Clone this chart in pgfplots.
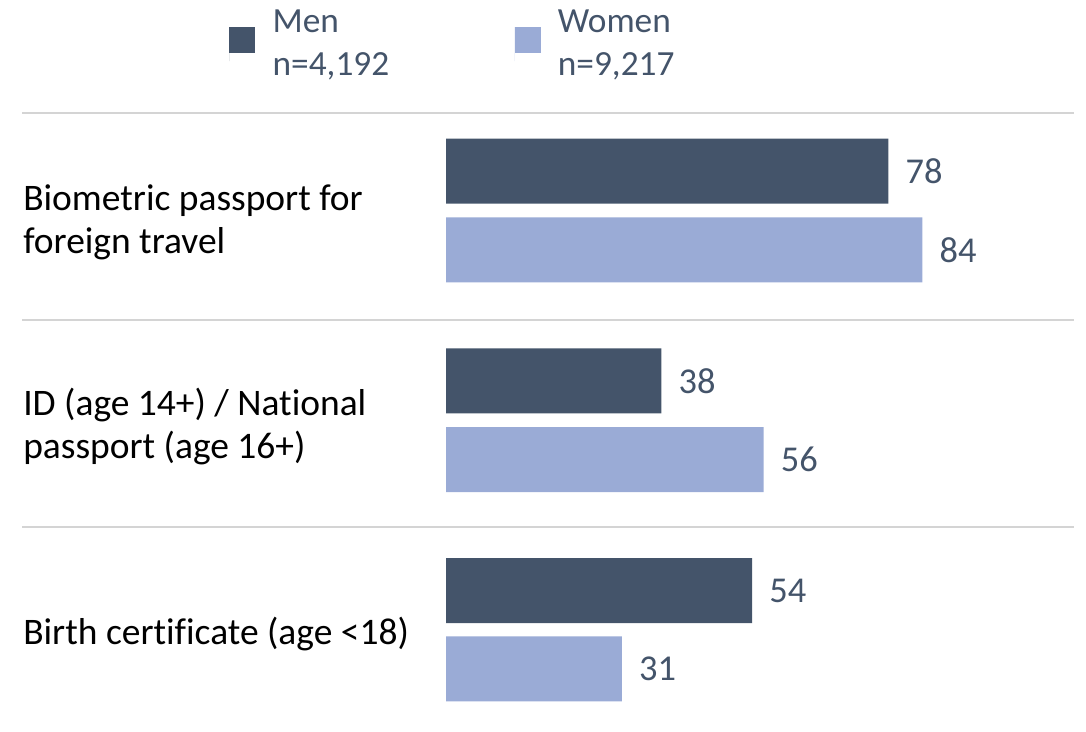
\documentclass[border=0pt]{standalone}
\usepackage{pgfplots}
\pgfplotsset{compat=1.18}
\usepackage{fontspec}
\setmainfont{Carlito}[Ligatures=NoCommon]
\definecolor{men}{HTML}{44546A}
\definecolor{women}{HTML}{9AABD6}
\definecolor{txt}{HTML}{44546A}
\definecolor{sepc}{HTML}{D4D4D4}
\begin{document}
\begin{tikzpicture}[x=1pt,y=1pt]
\begin{axis}[
  at={(0,0)}, anchor=south west,
  scale only axis, width=814.5pt, height=549pt,
  xmin=-78.66, xmax=112.87, ymin=0, ymax=732, y dir=reverse,
  hide axis, clip=false,
  /pgf/number format/assume math mode=true,
  xbar, bar width=65, bar shift=0,
  nodes near coords,
  nodes near coords style={anchor=west, inner sep=0pt, xshift=12.75pt, text=txt, font=\fontsize{27.3}{32}\selectfont},
  legend columns=2,
  legend cell align=left,
  legend style={at={(axis cs:-38.27,10)}, anchor=north west, draw=none, fill=none,
    inner sep=0pt, font=\fontsize{26.5}{32.25}\selectfont,
    nodes={align=left, text=txt, inner sep=0pt},
    /tikz/every odd column/.append style={column sep=13pt},
    /tikz/every even column/.append style={column sep=94pt}},
]
\addplot[fill=men, draw=none,
  legend image code/.code={\path (0pt,-12.75pt) -- (0pt,12.75pt); \fill[men] (0pt,-6.75pt) rectangle (19.5pt,12.75pt);}]
  coordinates {(78,171.2) (38,380.8) (54,590.7)};
\addlegendentry{Men\\n=4,192}
\addplot[fill=women, draw=none,
  legend image code/.code={\path (0pt,-12.75pt) -- (0pt,12.75pt); \fill[women] (0pt,-6.75pt) rectangle (19.5pt,12.75pt);}]
  coordinates {(84,249.8) (56,459.5) (31,668.8)};
\addlegendentry{Women\\n=9,217}

\draw[sepc, line width=1.2pt] (axis cs:-74.78,113) -- (axis cs:110.76,113);
\draw[sepc, line width=1.2pt] (axis cs:-74.78,320) -- (axis cs:110.76,320);
\draw[sepc, line width=1.2pt] (axis cs:-74.78,527) -- (axis cs:110.76,527);

\begin{scope}[every node/.style={anchor=base west, inner sep=0pt, font=\fontsize{28.1}{33}\selectfont, text=black}]
\node at (axis cs:-74.6,210) {Biometric passport for};
\node at (axis cs:-74.6,253) {foreign travel};
\node at (axis cs:-74.6,415) {ID (age 14+) / National};
\node at (axis cs:-74.6,458) {passport (age 16+)};
\node at (axis cs:-74.6,644) {Birth certificate (age <18)};
\end{scope}
\end{axis}
\pgfresetboundingbox
\path (0,0) rectangle (814.5pt,549pt);
\end{tikzpicture}
\end{document}
